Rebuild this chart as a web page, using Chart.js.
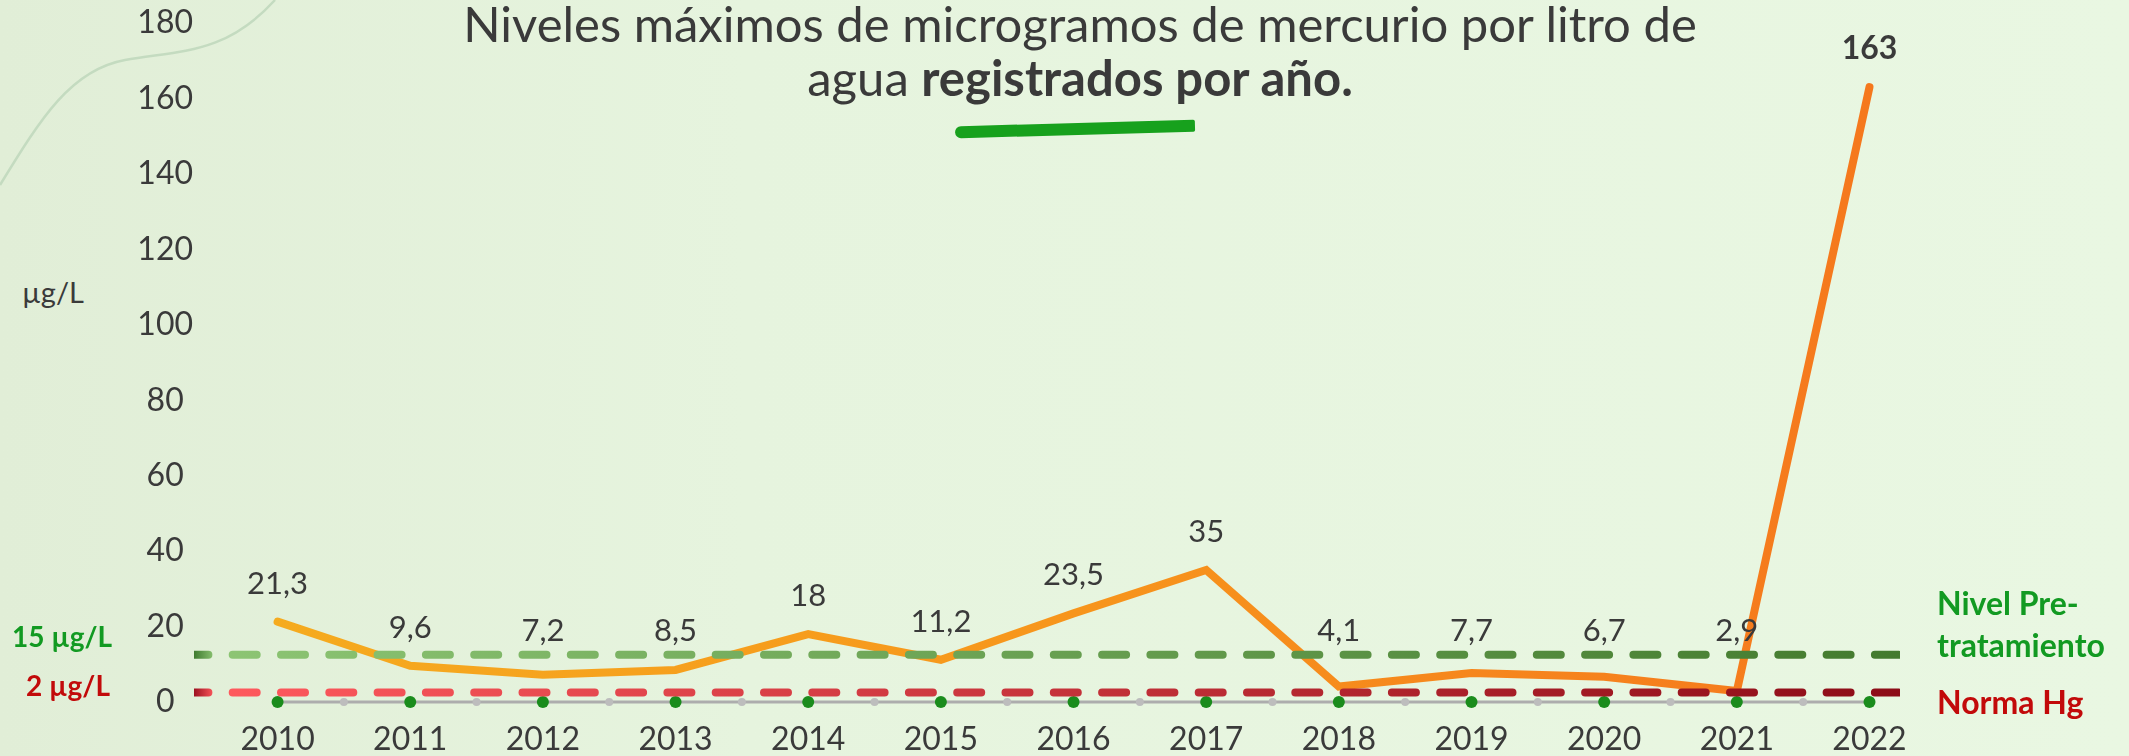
<!DOCTYPE html>
<html lang="es">
<head>
<meta charset="utf-8">
<title>Niveles máximos de mercurio</title>
<script src="https://cdn.jsdelivr.net/npm/chart.js@4.4.1/dist/chart.umd.min.js"></script>
<style>
  html, body { margin: 0; padding: 0; }
  body {
    width: 2129px; height: 756px; overflow: hidden; position: relative;
    background: linear-gradient(90deg, #e1eed7 0%, #e6f4de 35%, #e9f7e2 100%);
    font-family: Lato, "Noto Sans", sans-serif; color: #3a3a3a;
  }
  #chart { position: absolute; left: 0; top: 0; }
  .deco { position: absolute; left: 0; top: 0; }
  .title {
    position: absolute; left: 1080px; top: -4px; transform: translateX(-50%);
    text-align: center; font-size: 49px; line-height: 54px; white-space: nowrap; color: #3a3a3a;
  }
  .title b { font-weight: 700; }
  .brush {
    position: absolute; left: 955px; top: 123px; width: 240px; height: 12px;
    background: #17a11d; border-radius: 7px 2px 2px 7px; transform: rotate(-1.6deg);
  }
  .unit { position: absolute; left: 22px; top: 277px; font-size: 29px; line-height: 30px; color: #3a3a3a; }
</style>
</head>
<body>
<svg class="deco" width="400" height="260">
  <path d="M0 185 C 40 120, 70 70, 125 60 S 225 55, 275 0" fill="none" stroke="#c4dbc0" stroke-width="2.5"/>
</svg>
<div class="title">Niveles máximos de microgramos de mercurio por litro de<br>agua <b>registrados por año.</b></div>
<div class="brush"></div>
<div class="unit">µg/L</div>
<canvas id="chart" width="2129" height="756"></canvas>
<script>
const years = [2010, 2011, 2012, 2013, 2014, 2015, 2016, 2017, 2018, 2019, 2020, 2021, 2022];
const maxLevels = [21.3, 9.6, 7.2, 8.5, 18, 11.2, 23.5, 35, 4.1, 7.7, 6.7, 2.9, 163];
const yTicks = [0, 20, 40, 60, 80, 100, 120, 140, 160, 180];

// the two dashed reference lines, as they sit on the picture
const pretreatLevel = 12.5;
const normaLevel = 2.5;
const pretreatText = "15 µg/L";
const normaText = "2 µg/L";
const pretreatSide = ["Nivel Pre-", "tratamiento"];
const normaSide = "Norma Hg";

const FONT = "Lato, 'Noto Sans', sans-serif";
Chart.defaults.font.family = FONT;

const fmt = v => String(v).replace(".", ",");

function lineGradient(context) {
  const { chart } = context;
  const area = chart.chartArea;
  if (!area) return "#f59a1e";
  const g = chart.ctx.createLinearGradient(area.left, 0, area.right, 0);
  g.addColorStop(0, "#f5ad1f");
  g.addColorStop(0.5, "#f7961c");
  g.addColorStop(1, "#f5771d");
  return g;
}

const thresholds = [
  { value: pretreatLevel, stub: "#3f7a2f", from: "#8dc574", to: "#437a2e" },
  { value: normaLevel, stub: "#9c1120", from: "#ff5a5e", to: "#8c0c17" }
];

const overlay = {
  id: "overlay",
  afterDatasetsDraw(chart) {
    const { ctx, chartArea: a, scales: { y } } = chart;

    thresholds.forEach(t => {
      const py = y.getPixelForValue(t.value);
      const g = ctx.createLinearGradient(a.left, 0, a.right, 0);
      g.addColorStop(0, t.stub);
      g.addColorStop(0.012, t.from);
      g.addColorStop(1, t.to);
      ctx.save();
      ctx.beginPath();
      ctx.rect(a.left, py - 10, a.right - a.left, 20);
      ctx.clip();
      ctx.strokeStyle = g;
      ctx.lineWidth = 8;
      ctx.lineCap = "round";
      ctx.setLineDash([24, 24.3]);
      ctx.lineDashOffset = 9.6;
      ctx.beginPath();
      ctx.moveTo(a.left, py);
      ctx.lineTo(a.right, py);
      ctx.stroke();
      ctx.restore();
    });

    const greenY = y.getPixelForValue(pretreatLevel);
    const redY = y.getPixelForValue(normaLevel);
    const peak = Math.max(...maxLevels);

    ctx.save();
    ctx.textAlign = "center";
    ctx.textBaseline = "middle";
    ctx.fillStyle = "#3a3a3a";
    chart.getDatasetMeta(0).data.forEach((pt, i) => {
      const v = maxLevels[i];
      ctx.font = (v === peak ? "700 32px " : "400 31px ") + FONT;
      const ly = Math.min(pt.y - 38, greenY - 24);
      ctx.fillText(fmt(v), pt.x, ly);
    });

    // side labels
    ctx.font = "700 28px " + FONT;
    ctx.fillStyle = "#129a22";
    ctx.fillText(pretreatText, 62, greenY - 17);
    ctx.fillStyle = "#c20a0a";
    ctx.fillText(normaText, 68, redY - 6);

    ctx.font = "700 32px " + FONT;
    ctx.textAlign = "left";
    ctx.fillStyle = "#129a22";
    ctx.fillText(pretreatSide[0], 1937, greenY - 50);
    ctx.fillText(pretreatSide[1], 1937, greenY - 8);
    ctx.fillStyle = "#c20a0a";
    ctx.fillText(normaSide, 1937, redY + 11);
    ctx.restore();
  }
};

const zeroRow = years.map(yr => ({ x: yr, y: 0 }));
const midRow = years.slice(0, -1).map(yr => ({ x: yr + 0.5, y: 0 }));

new Chart(document.getElementById("chart"), {
  type: "line",
  data: {
    datasets: [
      {
        label: "Máximo µg/L",
        data: years.map((yr, i) => ({ x: yr, y: maxLevels[i] })),
        borderColor: lineGradient,
        borderWidth: 8,
        borderCapStyle: "round",
        borderJoinStyle: "miter",
        tension: 0,
        pointRadius: 0,
        clip: false
      },
      {
        data: zeroRow,
        showLine: false,
        pointRadius: 6,
        pointBorderWidth: 0,
        pointBackgroundColor: "#1a8c1c",
        clip: false
      },
      {
        data: midRow,
        showLine: false,
        pointRadius: 4,
        pointBorderWidth: 0,
        pointBackgroundColor: "#bdbdbd",
        clip: false
      },
      {
        data: zeroRow,
        borderColor: "#adadad",
        borderWidth: 3,
        pointRadius: 0,
        clip: false
      }
    ]
  },
  options: {
    responsive: false,
    animation: false,
    events: [],
    layout: { padding: { top: 23, right: 229, left: 0, bottom: 0 } },
    plugins: { legend: { display: false }, tooltip: { enabled: false } },
    scales: {
      x: {
        type: "linear",
        min: 2009.37,
        max: 2022.23,
        afterBuildTicks: s => { s.ticks = years.map(v => ({ value: v })); },
        afterFit: s => { s.height = 54; },
        grid: { display: false, drawTicks: false },
        border: { display: false },
        ticks: {
          callback: v => String(v),
          autoSkip: false,
          maxRotation: 0,
          padding: 18,
          color: "#3a3a3a",
          font: { size: 32 }
        }
      },
      y: {
        min: 0,
        max: 180,
        afterBuildTicks: s => { s.ticks = yTicks.map(v => ({ value: v })); },
        afterFit: s => { s.width = 194; },
        grid: { display: false, drawTicks: false },
        border: { display: false },
        ticks: {
          crossAlign: "center",
          padding: 1,
          color: "#3a3a3a",
          font: { size: 32 }
        }
      }
    }
  },
  plugins: [overlay]
});
</script>
</body>
</html>
